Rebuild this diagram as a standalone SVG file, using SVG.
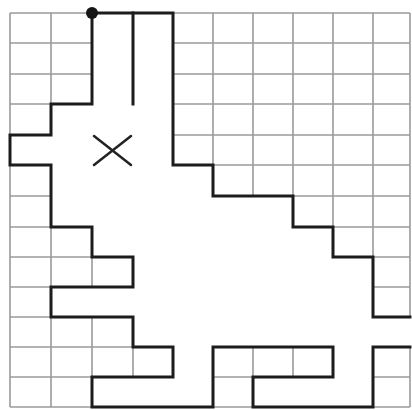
<svg xmlns="http://www.w3.org/2000/svg" width="412" height="410" viewBox="0 0 412 410">
  <style>
    .grid { stroke: #9a9a9a; stroke-width: 1.6; fill: none; }
    .wall { stroke: #1c1c1c; stroke-width: 3; fill: none; stroke-linejoin: miter; stroke-linecap: square; }
    .mark { stroke: #222; stroke-width: 2.5; fill: none; stroke-linecap: round; }
  </style>
  <rect x="0" y="0" width="412" height="410" fill="#ffffff"/>
  <g id="grid" class="grid">
    <path d="M10,13V407 M51,13V407 M92,13V407 M133,13V407 M173,13V407 M213,13V407 M253,13V407 M293,13V407 M333,13V407 M373,13V407 M410,13V407"/>
    <path d="M10,13H410 M10,43H410 M10,74H410 M10,104H410 M10,135H410 M10,165H410 M10,196H410 M10,227H410 M10,257H410 M10,287H410 M10,317H410 M10,347H410 M10,377H410 M10,407H410"/>
  </g>
  <g id="room">
    <path fill="#ffffff" stroke="none" d="M92,13 L173,13 L173,165 L213,165 L213,196 L293,196 L293,227 L333,227 L333,257 L373,257 L373,317 L414,317 L414,347 L373,347 L373,407 L253,407 L253,377 L333,377 L333,347 L213,347 L213,407 L92,407 L92,377 L173,377 L173,347 L133,347 L133,317 L51,317 L51,287 L133,287 L133,257 L92,257 L92,227 L51,227 L51,165 L10,165 L10,135 L51,135 L51,104 L92,104 Z"/>
  </g>
  <g id="walls" class="wall">
    <path d="M92,13 L173,13 L173,165 L213,165 L213,196 L293,196 L293,227 L333,227 L333,257 L373,257 L373,317 L410,317"/>
    <path d="M410,347 L373,347 L373,407 L253,407 L253,377 L333,377 L333,347 L213,347 L213,407 L92,407 L92,377 L173,377 L173,347 L133,347 L133,317 L51,317 L51,287 L133,287 L133,257 L92,257 L92,227 L51,227 L51,165 L10,165 L10,135 L51,135 L51,104 L92,104 L92,13"/>
    <path d="M133,13 L133,104"/>
  </g>
  <g id="start">
    <circle cx="92" cy="13" r="6" fill="#151515"/>
  </g>
  <g id="target" class="mark">
    <path d="M94,136 L131,165 M94,165 L131,136"/>
  </g>
</svg>
